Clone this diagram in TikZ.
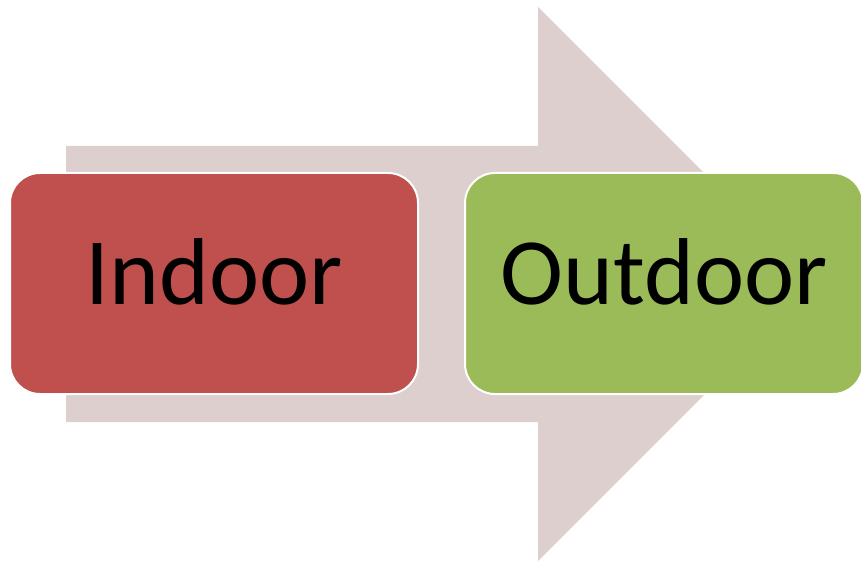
\documentclass[tikz,border=0pt]{standalone}
\usepackage{fontspec}
\setmainfont{Carlito}
\usetikzlibrary{positioning}
\definecolor{arInk}  {HTML}{DCCFCE}
\definecolor{bxRed}  {HTML}{C0504D}
\definecolor{bxGreen}{HTML}{9BBB59}
\tikzset{
  stagebox/.style={draw=white,line width=2pt,rounded corners=30pt,
    minimum height=221pt,text=black,font=\fontsize{95}{100}\selectfont,
    text height=70pt,text depth=29pt,inner sep=0pt}
}
\begin{document}
\begin{tikzpicture}[x=1pt,y=-1pt]
    \useasboundingbox (0,0) rectangle (861,561);
    % big arrow behind
    \fill[arInk] (66,146) -- (538,146) -- (538,7) -- (815,284)
      -- (538,561) -- (538,422) -- (66,422) -- cycle;

    \node[stagebox,fill=bxRed,minimum width=408pt] (indoor) at (214,283.5) {Indoor};
    \node[stagebox,fill=bxGreen,minimum width=398pt,right=45pt of indoor] (outdoor) {Outdoor};
  \end{tikzpicture}
\end{document}
